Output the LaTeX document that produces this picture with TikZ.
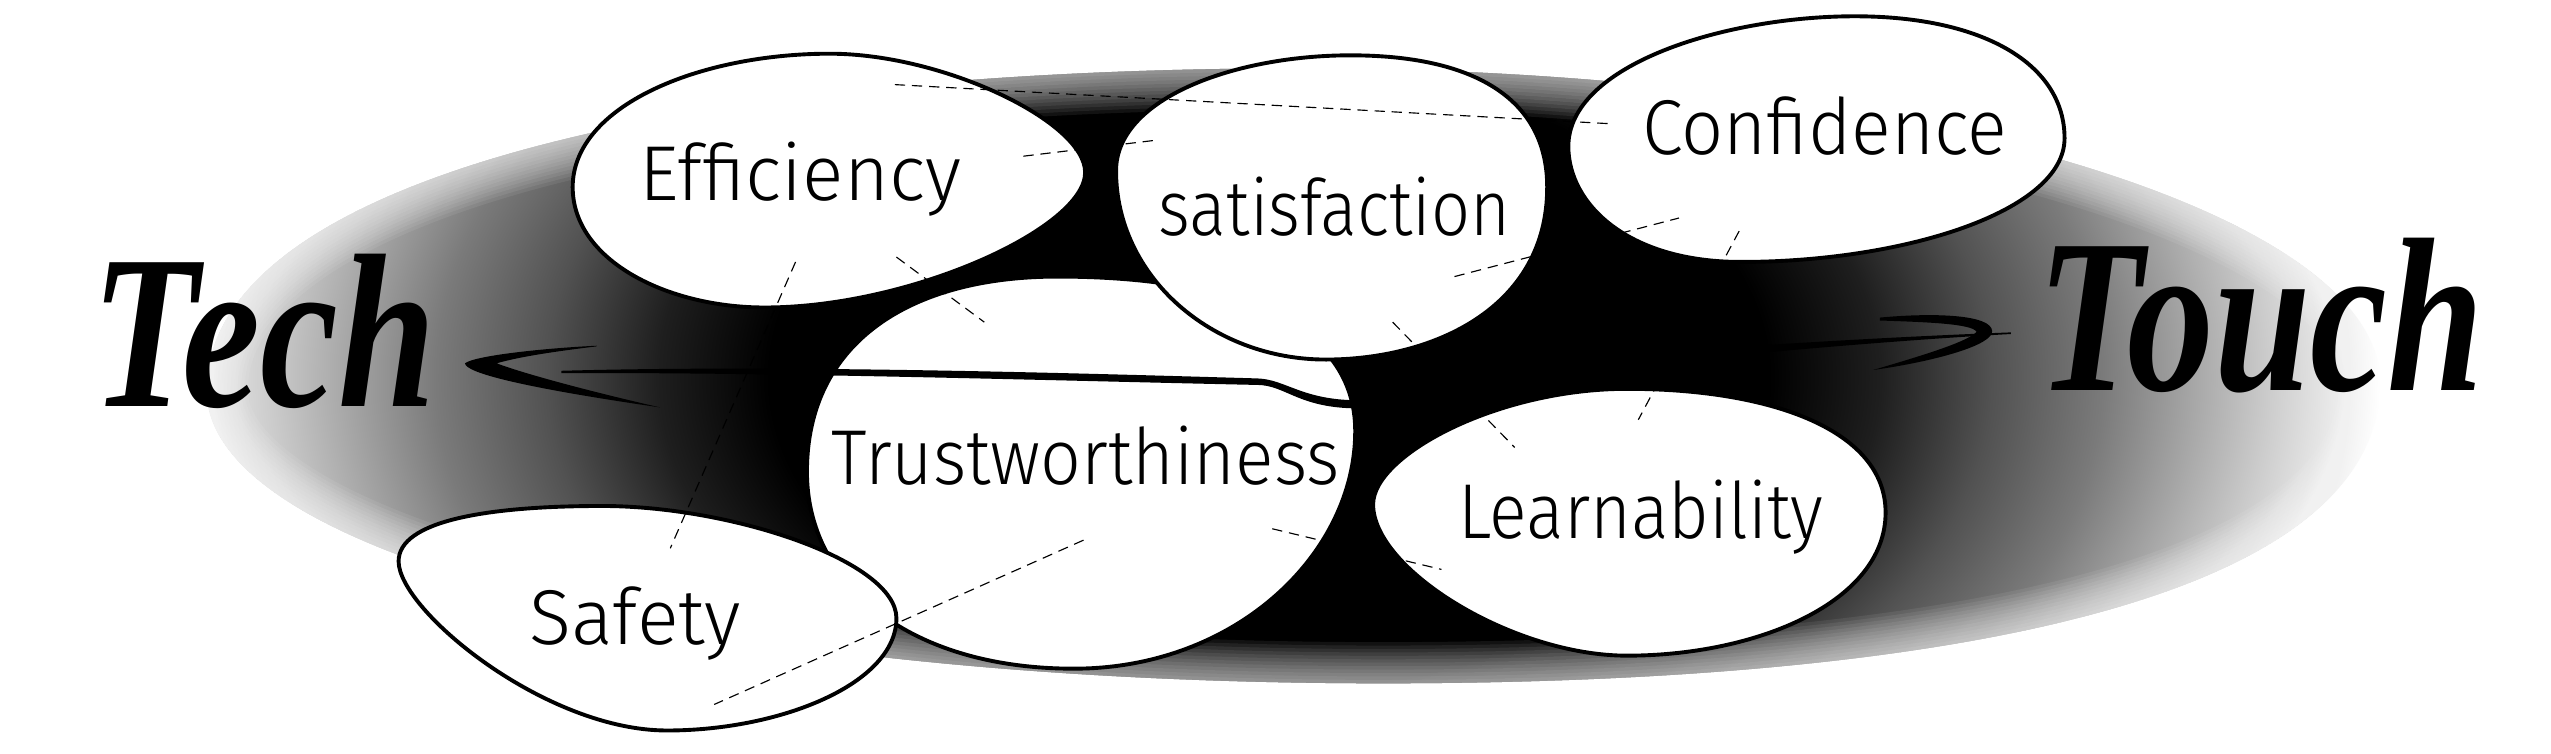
\documentclass[tikz,border=0pt]{standalone}
\usepackage{fontspec}
\IfFontExistsTF{Fira Sans Light}{\newfontfamily\hand{Fira Sans Light}}{\newfontfamily\hand{Fira Sans}}
\newfontfamily\brush{Liberation Serif}
\pgfdeclareradialshading{bgshade}{\pgfpoint{0bp}{0bp}}{color(0bp)=(black); color(11.25bp)=(black); color(13.75bp)=(black!88); color(16.25bp)=(black!68); color(18.75bp)=(black!52); color(22.5bp)=(black!20); color(25bp)=(white); color(50bp)=(white)}
\tikzset{
  blob/.style={draw=black, fill=white, line width=1.7pt, line join=round},
  dashlink/.style={draw=black, line width=0.5pt, dash pattern=on 4.5pt off 3pt},
  wordlabel/.style={inner sep=0pt, anchor=base west, font=\hand\fontsize{34}{40}\selectfont},
  bigword/.style={inner sep=0pt, anchor=base west, font=\brush\bfseries\itshape\fontsize{96}{110}\selectfont},
  ink/.style={fill=black, draw=none},
}
\begin{document}
\begin{tikzpicture}[x=0.025cm, y=-0.025cm]
\useasboundingbox (0,0) rectangle (1568,463);
\fill[white] (0,0) rectangle (1568,463);
% background dark egg
\def\eggpath{(127,240) .. controls (127,110) and (420,42) .. (800,42) .. controls (1170,42) and (1463,130) .. (1463,235) .. controls (1463,370) and (1190,420) .. (850,420) .. controls (450,420) and (127,345) .. (127,240) -- cycle}
\begin{scope}
  \clip \eggpath;
  \shade[shading=bgshade] (97,-188) rectangle (1463,652);
  \foreach \w in {3,6,...,36} {\draw[white, opacity=0.07, line width=\w pt] \eggpath;}
\end{scope}
% blobs
% Trustworthiness
\draw[blob] (650,170) .. controls (760,170) and (833,200) .. (833,265)
  .. controls (833,340) and (760,411) .. (660,411)
  .. controls (560,411) and (496,360) .. (496,290)
  .. controls (496,210) and (560,170) .. (650,170) -- cycle;
% Efficiency
\draw[blob] (510,33) .. controls (580,33) and (667,75) .. (667,106)
  .. controls (667,140) and (560,189) .. (470,189)
  .. controls (410,189) and (352,160) .. (352,115)
  .. controls (352,65) and (430,33) .. (510,33) -- cycle;
% satisfaction
\draw[blob] (830,34) .. controls (905,34) and (951,60) .. (951,115)
  .. controls (951,190) and (880,221) .. (815,221)
  .. controls (745,221) and (686,170) .. (686,105)
  .. controls (686,60) and (760,34) .. (830,34) -- cycle;
% Safety
\draw[blob] (370,311) .. controls (450,311) and (551,345) .. (551,380)
  .. controls (551,420) and (480,449) .. (410,449)
  .. controls (335,449) and (245,375) .. (245,345)
  .. controls (245,320) and (300,311) .. (370,311) -- cycle;
% Confidence
\draw[blob] (1140,10) .. controls (1220,10) and (1269,40) .. (1269,85)
  .. controls (1269,130) and (1170,161) .. (1070,161)
  .. controls (1000,161) and (964,125) .. (964,90)
  .. controls (964,40) and (1060,10) .. (1140,10) -- cycle;
% Learnability
\draw[blob] (1000,239) .. controls (1090,239) and (1159,265) .. (1159,315)
  .. controls (1159,370) and (1080,403) .. (1000,403)
  .. controls (930,403) and (844,350) .. (844,310)
  .. controls (844,280) and (920,239) .. (1000,239) -- cycle;
% Tech arrow: shaft with hook into Trustworthiness
\fill[ink] (345,227.9) .. controls (480,224.2) and (650,229) .. (773,232.6)
  .. controls (790,233.2) and (800,245.5) .. (833,246)
  -- (833,251) .. controls (798,250.5) and (790,236.8) .. (773,236.6)
  .. controls (650,234) and (480,228.8) .. (345,229.3) -- cycle;
% Tech arrow head (one brush stroke)
\fill[ink] (366.7,212.5) .. controls (335,214) and (292,218.5) .. (285.8,223.3)
  .. controls (286,229) and (320,238) .. (405.7,250.4)
  .. controls (360,240) and (320,229) .. (305.3,223.3)
  .. controls (320,219) and (345,215.5) .. (366.7,212.9) -- cycle;
% Touch arrow shaft
\fill[ink] (1024,216.5) .. controls (1060,213.5) and (1150,207.5) .. (1236,204.3)
  -- (1236,205.3) .. controls (1150,210) and (1060,219) .. (1026,222)
  .. controls (1020,221.5) and (1020,217) .. (1024,216.5) -- cycle;
% Touch arrow head (one brush stroke)
\fill[ink] (1155.5,195.2) .. controls (1190,192) and (1224,193.5) .. (1224.5,203.5)
  .. controls (1225,212) and (1190,222) .. (1151.4,227.4)
  .. controls (1180,219) and (1210,210) .. (1214.9,203.9)
  .. controls (1212,199) and (1185,198) .. (1155.5,197) -- cycle;
% dashed links
\coordinate (effA) at (550,52);  \coordinate (conA) at (989,76);
\coordinate (effB) at (629,96);  \coordinate (satA) at (712,86);
\coordinate (satB) at (894,170); \coordinate (conB) at (1032,134);
\coordinate (conC) at (1069,142); \coordinate (lrnA) at (1007,258);
\coordinate (satC) at (856,198); \coordinate (lrnB) at (931,275);
\coordinate (trsA) at (782,325); \coordinate (lrnC) at (886,350);
\coordinate (effC) at (551,158); \coordinate (trsB) at (605,198);
\coordinate (effD) at (489,161); \coordinate (safA) at (412,337);
\coordinate (trsC) at (666,332); \coordinate (safB) at (439,433);
\draw[dashlink] (effA) -- (conA);
\draw[dashlink] (effB) -- (satA);
\draw[dashlink] (satB) -- (conB);
\draw[dashlink] (conC) -- (lrnA);
\draw[dashlink] (satC) -- (lrnB);
\draw[dashlink] (trsA) -- (lrnC);
\draw[dashlink] (effC) -- (trsB);
\draw[dashlink] (effD) -- (safA);
\draw[dashlink] (trsC) -- (safB);
% labels
\node[wordlabel] (eff) at (393,123) {\scalebox{0.99}[1]{Efficiency}};
\node[wordlabel] (sat) at (712,145) {\scalebox{0.88}[1]{satisfaction}};
\node[wordlabel] (con) at (1009,95) {\scalebox{0.95}[1]{Confidence}};
\node[wordlabel] (trs) at (511,298) {\scalebox{0.92}[1]{Trustworthiness}};
\node[wordlabel] (lrn) at (896,331) {\scalebox{0.9}[1]{Learnability}};
\node[wordlabel] (saf) at (325,396) {\scalebox{1.0}[1]{Safety}};
\node[bigword] (tech) at (56,250) {\scalebox{0.8}[1]{Tech}};
\node[bigword] (touch) at (1252,240) {\scalebox{0.79}[1]{Touch}};
\end{tikzpicture}
\end{document}
